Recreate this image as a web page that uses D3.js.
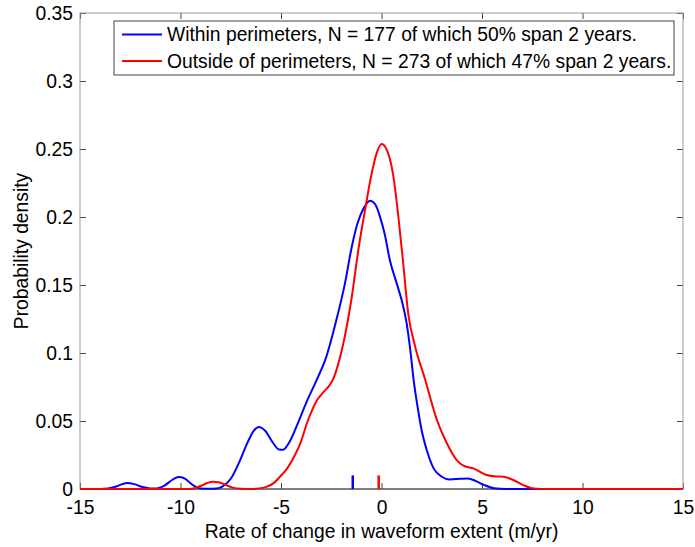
<!DOCTYPE html>
<html>
<head>
<meta charset="utf-8">
<script src="https://cdn.jsdelivr.net/npm/d3@7"></script>
<style>
  html, body { margin: 0; padding: 0; background: #fff; }
  svg { display: block; font-family: "Liberation Sans", Arial, Helvetica, sans-serif; }
</style>
</head>
<body>
<svg id="chart" width="695" height="547"></svg>
<script>
// Kernel density estimates of the rate of change in waveform extent (m/yr)
const withinX = [-15, -14, -13.6, -13.2, -12.9, -12.65, -12.3, -11.9, -11.5, -11.2, -10.8, -10.4, -10.1, -9.8, -9.4, -9.0, -8.6, -8.2, -7.9, -7.5, -7.1, -6.7, -6.35, -6.1, -5.8, -5.4, -5.1, -4.9, -4.6, -4.2, -3.7, -3.2, -2.75, -2.25, -1.82, -1.48, -1.2, -0.9, -0.57, -0.3, -0.05, 0.15, 0.42, 0.76, 1.0, 1.25, 1.45, 1.6, 1.8, 2.0, 2.25, 2.6, 3.0, 3.4, 3.9, 4.3, 4.7, 5.1, 5.6, 6.2, 15];
const withinY = [0, 0, 0.0003, 0.0018, 0.0036, 0.0044, 0.0036, 0.0015, 0.0004, 0.0004, 0.0025, 0.0068, 0.0088, 0.0078, 0.003, 0.0004, 0.0001, 0.0004, 0.002, 0.0075, 0.019, 0.033, 0.043, 0.0456, 0.043, 0.034, 0.029, 0.0288, 0.034, 0.047, 0.065, 0.081, 0.097, 0.124, 0.151, 0.178, 0.195, 0.206, 0.212, 0.209, 0.199, 0.188, 0.168, 0.151, 0.139, 0.122, 0.1, 0.08, 0.06, 0.043, 0.0287, 0.015, 0.009, 0.007, 0.0075, 0.0078, 0.0058, 0.003, 0.0006, 0, 0];

const outsideX = [-15, -9.6, -9.3, -9.0, -8.7, -8.4, -8.1, -7.8, -7.4, -7.0, -6.5, -6.1, -5.7, -5.35, -5.05, -4.7, -4.39, -4.0, -3.72, -3.45, -3.22, -2.9, -2.6, -2.4, -2.15, -1.9, -1.48, -1.15, -0.82, -0.49, -0.24, 0.01, 0.3, 0.59, 0.84, 1.08, 1.33, 1.67, 2.16, 2.75, 3.24, 3.74, 4.1, 4.57, 5.23, 5.7, 6.06, 6.56, 7.05, 7.47, 8, 15];
const outsideY = [0, 0, 0.0006, 0.0022, 0.0042, 0.0054, 0.005, 0.0032, 0.001, 0.0002, 0, 0.0003, 0.0017, 0.0045, 0.009, 0.015, 0.0226, 0.035, 0.048, 0.058, 0.065, 0.071, 0.076, 0.081, 0.092, 0.107, 0.141, 0.176, 0.205, 0.232, 0.247, 0.2537, 0.248, 0.230, 0.200, 0.166, 0.129, 0.105, 0.081, 0.051, 0.034, 0.0213, 0.017, 0.0152, 0.0103, 0.0092, 0.009, 0.0066, 0.0029, 0.0006, 0, 0];

// Central values marked on the baseline
const centreValues = [-1.43, -0.14];
const markHeight = 0.01;

const seriesNames = [
  "Within perimeters, N = 177 of which 50% span 2 years.",
  "Outside of perimeters, N = 273 of which 47% span 2 years."
];
const seriesColors = ["#0000ff", "#ff0000"];

const xTicks = [-15, -10, -5, 0, 5, 10, 15];
const xTickLabels = ["-15", "-10", "-5", "0", "5", "10", "15"];
const yTicks = [0, 0.05, 0.1, 0.15, 0.2, 0.25, 0.3, 0.35];
const yTickLabels = ["0", "0.05", "0.1", "0.15", "0.2", "0.25", "0.3", "0.35"];

const xTitle = "Rate of change in waveform extent (m/yr)";
const yTitle = "Probability density";

// Layout
const W = 695, H = 547;
const margin = { left: 80, right: 12, top: 13, bottom: 58 };
const iw = W - margin.left - margin.right;
const ih = H - margin.top - margin.bottom;

const svg = d3.select("#chart");
const g = svg.append("g").attr("transform", `translate(${margin.left},${margin.top})`);

const x = d3.scaleLinear().domain([-15, 15]).range([0, iw]);
const y = d3.scaleLinear().domain([0, 0.35]).range([ih, 0]);

const fontSize = 19.3;
const tickLen = 6;

// Axes with inward ticks on all four sides
const axisStyle = sel => {
  sel.select(".domain").remove();
  sel.selectAll(".tick line").attr("stroke", "#444").attr("stroke-width", 1);
  sel.selectAll(".tick text").attr("fill", "#000").attr("font-size", fontSize).attr("font-family", null);
};

g.append("g")
  .attr("transform", `translate(0,${ih})`)
  .call(d3.axisBottom(x).tickValues(xTicks).tickFormat((d, i) => xTickLabels[i]).tickSizeInner(-tickLen).tickSizeOuter(0).tickPadding(11))
  .call(axisStyle);

g.append("g")
  .call(d3.axisTop(x).tickValues(xTicks).tickFormat("").tickSizeInner(-tickLen).tickSizeOuter(0))
  .call(axisStyle);

g.append("g")
  .call(d3.axisLeft(y).tickValues(yTicks).tickFormat((d, i) => yTickLabels[i]).tickSizeInner(-tickLen).tickSizeOuter(0).tickPadding(7))
  .call(axisStyle);

g.append("g")
  .attr("transform", `translate(${iw},0)`)
  .call(d3.axisRight(y).tickValues(yTicks).tickFormat("").tickSizeInner(-tickLen).tickSizeOuter(0))
  .call(axisStyle);

// Box frame
g.append("rect")
  .attr("x", 0).attr("y", 0).attr("width", iw).attr("height", ih)
  .attr("fill", "none").attr("stroke", "#999").attr("stroke-width", 1);
g.append("line")
  .attr("x1", 0).attr("x2", iw).attr("y1", ih).attr("y2", ih)
  .attr("stroke", "#333").attr("stroke-width", 1);

// Density curves
const series = [
  withinX.map((v, i) => [v, withinY[i]]),
  outsideX.map((v, i) => [v, outsideY[i]])
];

const line = d3.line()
  .x(d => x(d[0]))
  .y(d => y(d[1]))
  .curve(d3.curveMonotoneX);

g.selectAll("path.density")
  .data(series)
  .join("path")
  .attr("class", "density")
  .attr("d", line)
  .attr("fill", "none")
  .attr("stroke", (d, i) => seriesColors[i])
  .attr("stroke-width", 2)
  .attr("stroke-linejoin", "round");

// Central value markers
g.selectAll("line.mark")
  .data(centreValues)
  .join("line")
  .attr("class", "mark")
  .attr("x1", d => x(d)).attr("x2", d => x(d))
  .attr("y1", y(0)).attr("y2", y(markHeight))
  .attr("stroke", (d, i) => seriesColors[i])
  .attr("stroke-width", 2.5);

// Axis titles
svg.append("text")
  .attr("x", margin.left + iw / 2)
  .attr("y", 538)
  .attr("text-anchor", "middle")
  .attr("font-size", fontSize)
  .text(xTitle);

svg.append("text")
  .attr("transform", `translate(28,${margin.top + ih / 2}) rotate(-90)`)
  .attr("text-anchor", "middle")
  .attr("font-size", fontSize)
  .text(yTitle);

// Legend
const legend = svg.append("g").attr("transform", "translate(114,21)");
legend.append("rect")
  .attr("x", 0).attr("y", 0).attr("width", 560).attr("height", 54)
  .attr("fill", "#fff").attr("stroke", "#444").attr("stroke-width", 1);

const items = legend.selectAll("g.item")
  .data(seriesNames)
  .join("g")
  .attr("class", "item")
  .attr("transform", (d, i) => `translate(0,${13.5 + i * 26.5})`);

items.append("line")
  .attr("x1", 8).attr("x2", 48).attr("y1", 0).attr("y2", 0)
  .attr("stroke", (d, i) => seriesColors[i])
  .attr("stroke-width", 2);

items.append("text")
  .attr("x", 53)
  .attr("y", 0)
  .attr("dy", "0.36em")
  .attr("font-size", fontSize)
  .text(d => d);
</script>
</body>
</html>
